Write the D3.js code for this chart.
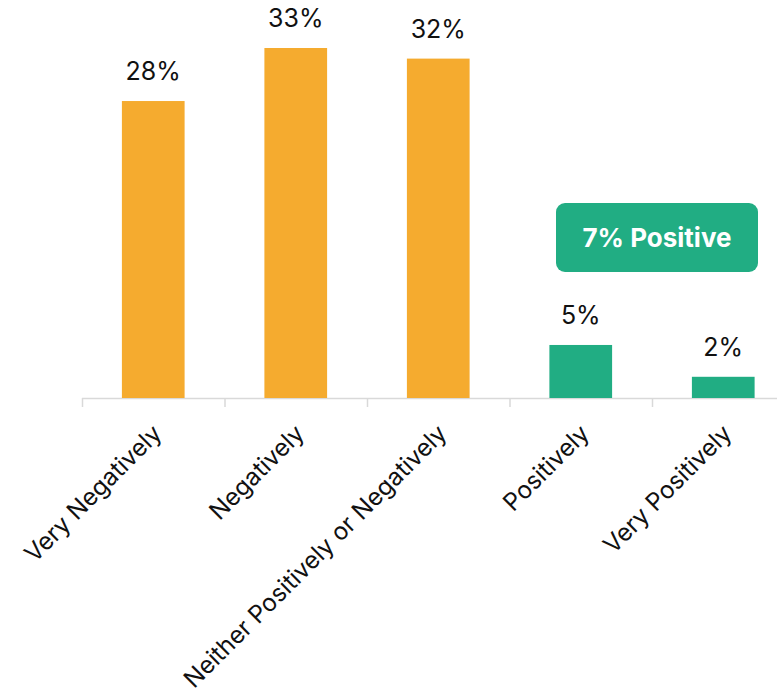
<!DOCTYPE html>
<html>
<head>
<meta charset="utf-8">
<script src="https://cdn.jsdelivr.net/npm/d3@7"></script>
<style>
  html, body { margin: 0; padding: 0; background: #fff; }
  svg { display: block; font-family: Inter, "Noto Sans", "DejaVu Sans", sans-serif; }
</style>
</head>
<body>
<svg id="chart" width="777" height="694"></svg>
<script>
// Survey response categories and their shares (percent)
const categories = [
  "Very Negatively",
  "Negatively",
  "Neither Positively or Negatively",
  "Positively",
  "Very Positively"
];
const values = [28, 33, 32, 5, 2];
const groups = ["neg", "neg", "neutral", "pos", "pos"];
const badgeText = "7% Positive";

const colors = { neg: "#F5AB2F", neutral: "#F5AB2F", pos: "#21AD83" };

const svg = d3.select("#chart");
const baseY = 398;

const x = d3.scaleBand()
  .domain(categories)
  .range([82, 794.5])
  .paddingInner(0)
  .paddingOuter(0);

const y = d3.scaleLinear()
  .domain([0, 33])
  .range([baseY, 48]);

const barW = x.bandwidth() * 0.44;

// Baseline axis with band-edge ticks
svg.append("line")
  .attr("x1", 82).attr("x2", 777)
  .attr("y1", baseY + 0.5).attr("y2", baseY + 0.5)
  .attr("stroke", "#d9d9d9").attr("stroke-width", 1.5);

svg.selectAll("line.tick")
  .data(categories)
  .join("line")
  .attr("class", "tick")
  .attr("x1", d => x(d) + 0.5).attr("x2", d => x(d) + 0.5)
  .attr("y1", baseY).attr("y2", baseY + 9)
  .attr("stroke", "#d9d9d9").attr("stroke-width", 1.5);

// Bars
svg.selectAll("rect.bar")
  .data(categories)
  .join("rect")
  .attr("class", "bar")
  .attr("x", d => x(d) + (x.bandwidth() - barW) / 2)
  .attr("width", barW)
  .attr("y", (d, i) => y(values[i]))
  .attr("height", (d, i) => baseY - y(values[i]))
  .attr("fill", (d, i) => colors[groups[i]]);

// Value labels above bars
svg.selectAll("text.val")
  .data(categories)
  .join("text")
  .attr("class", "val")
  .attr("x", d => x(d) + x.bandwidth() / 2)
  .attr("y", (d, i) => y(values[i]) - 21)
  .attr("text-anchor", "middle")
  .attr("font-size", 25)
  .attr("fill", "#111")
  .text((d, i) => values[i] + "%");

// Rotated category labels
svg.selectAll("text.cat")
  .data(categories)
  .join("text")
  .attr("class", "cat")
  .attr("text-anchor", "end")
  .attr("font-size", 24.3)
  .attr("fill", "#111")
  .attr("transform", d => `translate(${x(d) + x.bandwidth() / 2 + 10},${baseY + 37}) rotate(-45)`)
  .text(d => d);

// Summary badge for the positive responses
const badge = svg.append("g").attr("transform", "translate(556,203)");
badge.append("rect")
  .attr("width", 202).attr("height", 69)
  .attr("rx", 9).attr("ry", 9)
  .attr("fill", "#21AD83");
badge.append("text")
  .attr("x", 101).attr("y", 34.5)
  .attr("dy", "0.35em")
  .attr("text-anchor", "middle")
  .attr("font-size", 26)
  .attr("font-weight", 700)
  .attr("fill", "#fff")
  .text(badgeText);
</script>
</body>
</html>
